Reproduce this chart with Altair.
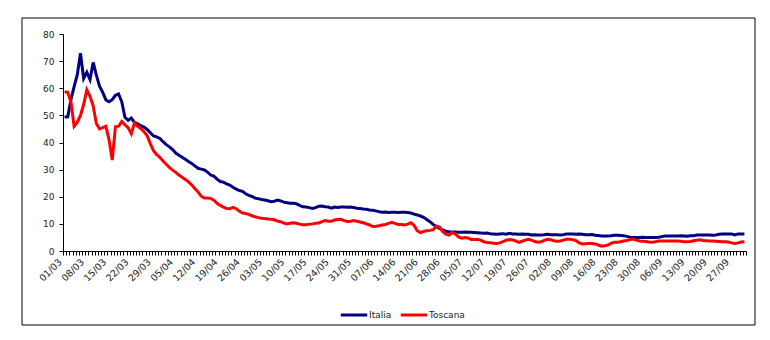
import altair as alt
import pandas as pd

# categories: daily dates 01/03/2020 .. 01/10/2020
dates = [d.strftime("%d/%m") for d in pd.date_range("2020-03-01", "2020-10-01", freq="D")]

italia = [
    # March
    49.4, 49.5, 55.8, 60.6, 65.0, 72.9, 63.6, 65.9, 63.2, 69.5, 64.8, 60.8, 58.5, 55.7, 55.0, 55.8,
    57.4, 57.9, 55.0, 49.3, 48.2, 49.0, 47.4, 46.9, 46.2, 45.7, 44.8, 43.6, 42.4, 42.1, 41.5,
    # April
    40.3, 39.2, 38.4, 37.4, 36.1, 35.3, 34.6, 33.8, 33.0, 32.3, 31.4, 30.5, 30.2, 29.9, 29.1,
    28.0, 27.6, 26.5, 25.6, 25.4, 24.7, 24.3, 23.5, 22.8, 22.3, 22.0, 21.1, 20.5, 20.1, 19.5,
    # May
    19.3, 19.0, 18.8, 18.5, 18.2, 18.3, 18.8, 18.5, 18.0, 17.8, 17.6, 17.6, 17.4, 16.8, 16.3, 16.2,
    16.0, 15.7, 16.0, 16.5, 16.6, 16.3, 16.2, 15.8, 16.2, 16.0, 16.2, 16.2, 16.1, 16.2, 16.0,
    # June
    15.8, 15.7, 15.5, 15.4, 15.1, 15.0, 14.8, 14.5, 14.3, 14.4, 14.2, 14.3, 14.3, 14.2, 14.3,
    14.3, 14.2, 14.0, 13.6, 13.3, 12.9, 12.4, 11.6, 10.8, 9.8, 9.0, 8.3, 7.8, 7.3, 7.1,
    # July
    7.0, 7.0, 6.9, 6.9, 7.0, 6.9, 6.9, 6.8, 6.7, 6.6, 6.5, 6.6, 6.4, 6.3, 6.2, 6.3,
    6.4, 6.2, 6.5, 6.3, 6.3, 6.2, 6.3, 6.2, 6.2, 5.9, 6.0, 5.9, 5.9, 6.0, 6.2,
    # August
    6.0, 6.0, 6.0, 5.9, 6.0, 6.3, 6.3, 6.3, 6.2, 6.3, 6.2, 6.0, 6.0, 6.1, 5.8, 5.7,
    5.5, 5.5, 5.5, 5.6, 5.8, 5.8, 5.7, 5.6, 5.4, 5.1, 5.0, 5.0, 5.0, 5.1, 5.0,
    # September
    5.0, 5.0, 5.0, 5.1, 5.3, 5.5, 5.5, 5.5, 5.5, 5.5, 5.6, 5.5, 5.4, 5.6, 5.6,
    5.9, 5.9, 5.9, 5.9, 5.9, 5.8, 5.9, 6.2, 6.3, 6.3, 6.3, 6.3, 5.9, 6.3, 6.3,
    # October
    6.3,
]

toscana = [
    # March
    58.7, 58.5, 55.0, 46.0, 47.5, 50.0, 54.0, 59.4, 57.0, 53.5, 47.0, 45.0, 45.5, 46.0, 41.0, 33.5,
    45.8, 46.0, 47.8, 46.5, 45.5, 43.2, 47.2, 46.0, 45.2, 44.0, 42.5, 39.5, 37.0, 35.5, 34.5,
    # April
    33.2, 32.0, 30.8, 29.8, 29.0, 28.0, 27.2, 26.4, 25.5, 24.4, 23.0, 21.8, 20.2, 19.5, 19.5,
    19.4, 18.7, 17.6, 16.8, 16.2, 15.7, 15.6, 16.1, 15.6, 14.7, 14.0, 13.8, 13.5, 13.0, 12.6,
    # May
    12.3, 12.1, 12.0, 11.8, 11.7, 11.5, 11.0, 10.8, 10.3, 10.0, 10.2, 10.4, 10.2, 9.9, 9.7, 9.7,
    9.9, 10.0, 10.2, 10.3, 10.8, 11.2, 11.0, 11.0, 11.4, 11.6, 11.7, 11.2, 10.9, 11.0, 11.2,
    # June
    11.0, 10.7, 10.4, 10.0, 9.6, 9.0, 9.1, 9.3, 9.6, 9.8, 10.2, 10.6, 10.2, 9.8, 9.8,
    9.6, 9.9, 10.4, 9.5, 7.5, 6.8, 7.2, 7.5, 7.6, 7.8, 9.2, 8.8, 7.2, 6.2, 5.9,
    # July
    6.8, 6.3, 5.2, 4.7, 5.0, 4.8, 4.2, 4.2, 4.3, 4.0, 3.4, 3.1, 3.0, 2.9, 2.8, 3.0,
    3.5, 4.0, 4.2, 4.1, 3.7, 3.2, 3.6, 4.0, 4.3, 4.0, 3.5, 3.2, 3.4, 3.9, 4.3,
    # August
    4.2, 3.8, 3.6, 3.7, 4.0, 4.3, 4.3, 4.2, 3.8, 3.0, 2.6, 2.7, 2.8, 2.8, 2.6, 2.2,
    1.8, 1.9, 2.2, 2.8, 3.2, 3.2, 3.4, 3.7, 3.9, 4.2, 4.4, 4.0, 3.7, 3.6, 3.5,
    # September
    3.3, 3.2, 3.4, 3.7, 3.7, 3.7, 3.7, 3.7, 3.7, 3.7, 3.6, 3.4, 3.4, 3.5, 3.8,
    4.0, 4.1, 3.9, 3.8, 3.7, 3.7, 3.6, 3.5, 3.4, 3.4, 3.3, 3.0, 2.8, 3.0, 3.3,
    # October
    3.4,
]

series_names = ["Italia", "Toscana"]
series_colors = ["#000080", "#FF0000"]
y_ticks = [0, 10, 20, 30, 40, 50, 60, 70, 80]

n = len(dates)
rows = []
for name, vals in zip(series_names, [italia, toscana]):
    for i, (d, v) in enumerate(zip(dates, vals)):
        rows.append({"day": i, "data": d, "serie": name, "valore": v})
df = pd.DataFrame(rows)

FONT = "DejaVu Sans"
label_array = "[" + ",".join("'" + d + "'" for d in dates) + "]"
label_expr = f"(datum.value % 7 == 0 && datum.value < {n}) ? {label_array}[datum.value] : ''"

x_enc = alt.X(
    "pos:Q",
    scale=alt.Scale(domain=[0, n], nice=False, zero=False),
    axis=alt.Axis(
        values=list(range(0, n + 1)),
        labelExpr=label_expr,
        labelAngle=-45,
        labelAlign="right",
        labelBaseline="middle",
        labelOverlap=False,
        labelFlush=False,
        labelBound=False,
        labelOffset=-3,
        labelPadding=5,
        tickSize=4,
        tickColor="black",
        domainColor="black",
        grid=False,
        title=None,
        labelFont=FONT,
        labelFontSize=9.5,
        labelColor="#222222",
    ),
)
y_enc = alt.Y(
    "valore:Q",
    scale=alt.Scale(domain=[0, 80], nice=False),
    axis=alt.Axis(
        values=y_ticks,
        tickSize=4,
        tickColor="black",
        domainColor="black",
        grid=False,
        title=None,
        labelFont=FONT,
        labelFontSize=9,
        labelColor="#222222",
        labelPadding=5,
    ),
)
color_enc = alt.Color(
    "serie:N",
    scale=alt.Scale(domain=series_names, range=series_colors),
    legend=alt.Legend(
        title=None,
        orient="none",
        legendX=276,
        legendY=266,
        direction="horizontal",
        symbolType="stroke",
        symbolStrokeWidth=3,
        symbolSize=700,
        labelFont=FONT,
        labelFontSize=9,
        labelColor="#222222",
        labelOffset=0,
        columnPadding=2,
        padding=0,
    ),
)

base = alt.Chart(df).transform_calculate(pos="datum.day + 0.5")

line_it = base.transform_filter(alt.datum.serie == "Italia").mark_line(strokeWidth=3).encode(
    x=x_enc, y=y_enc, color=color_enc
)
line_to = base.transform_filter(alt.datum.serie == "Toscana").mark_line(strokeWidth=3).encode(
    x=x_enc, y=y_enc, color=color_enc
)

frame = alt.Chart(pd.DataFrame({"a": [0]})).mark_rect(
    fill="white", fillOpacity=0, stroke="black", strokeWidth=1
).encode(
    x=alt.value(-41), x2=alt.value(692), y=alt.value(-16), y2=alt.value(291)
)

chart = alt.layer(frame, line_it, line_to).properties(
    width=683,
    height=217,
    autosize="none",
    padding={"left": 63, "top": 34, "right": 24, "bottom": 89},
    background="white",
).configure_view(stroke=None)

chart.save("out.html", embed_options={"renderer": "svg", "actions": False})
